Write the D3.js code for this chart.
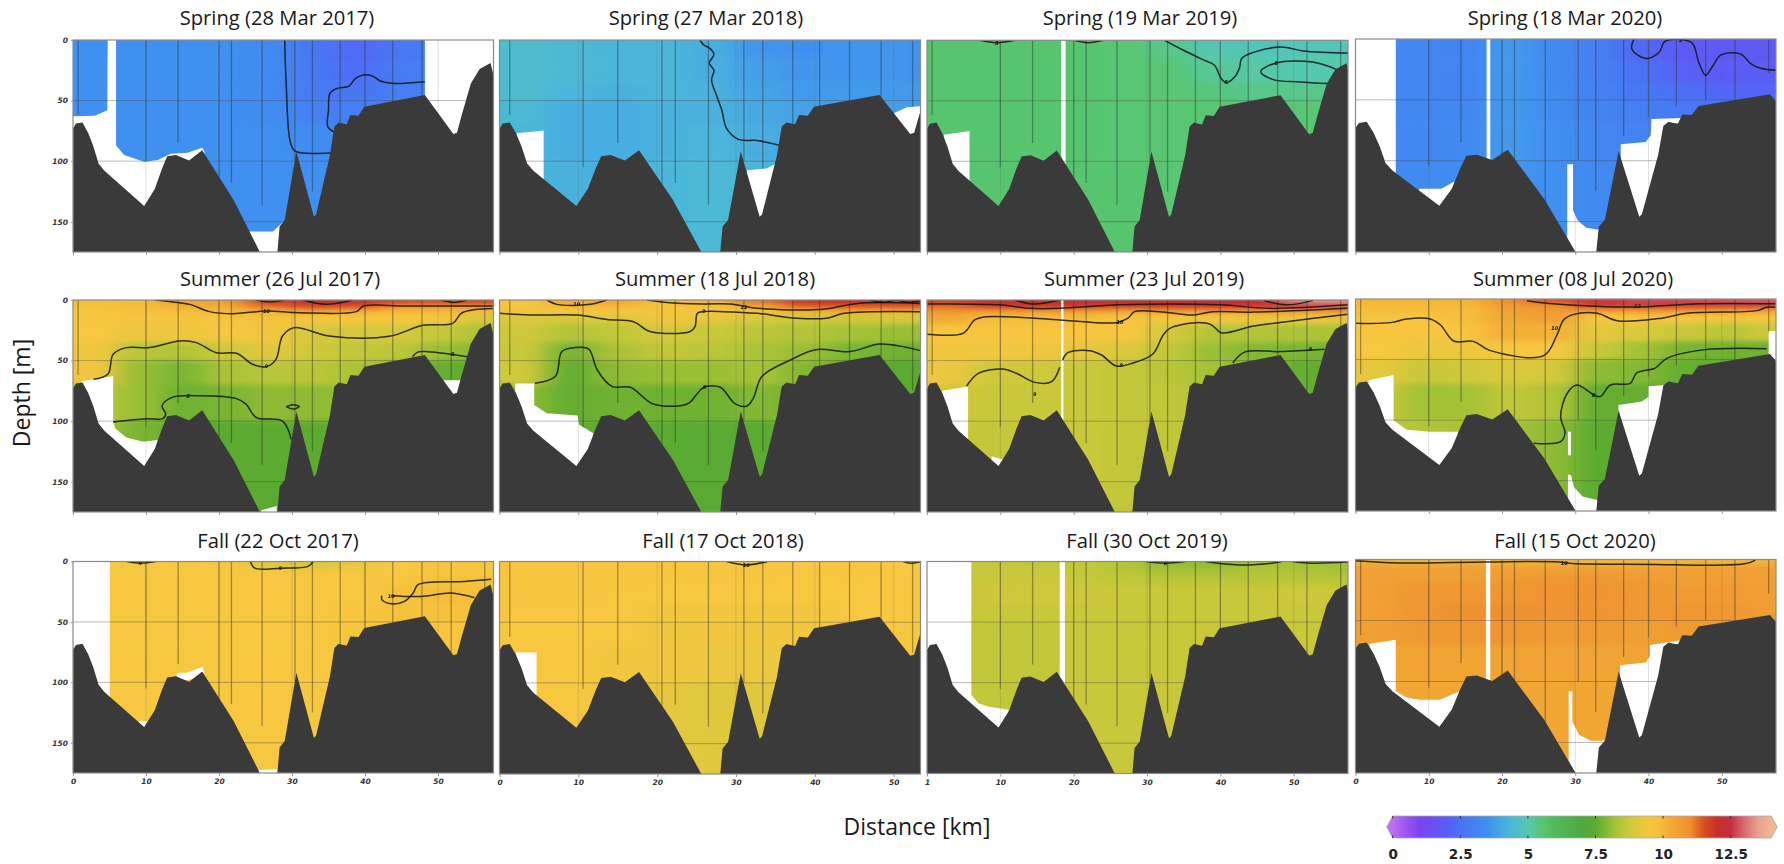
<!DOCTYPE html>
<html>
<head>
<meta charset="utf-8">
<script src="https://cdn.jsdelivr.net/npm/d3@7"></script>
<style>
body { margin: 0; background: #fff; }
svg { display: block; }
.title { font-family: "Open Sans"; font-size: 20.2px; fill: #1a1a1a; text-anchor: middle; }
.axis-title { font-family: "Open Sans"; font-size: 23px; fill: #1a1a1a; text-anchor: middle; }
.ticks text { font-family: "DejaVu Sans"; font-size: 7.5px; font-weight: bold; font-style: italic; fill: #333; }
.ticks line, .ticks path { stroke: #999; }
.cbar text { font-family: "DejaVu Sans"; font-size: 13.5px; font-weight: bold; fill: #222; }
.clabel { font-family: "DejaVu Sans"; font-size: 5px; font-weight: bold; font-style: italic; fill: #111; text-anchor: middle; }
</style>
</head>
<body>
<svg id="chart" width="1784" height="864"></svg>
<script>
// colour scale
const colorValues = [0, 0.5, 1, 2, 2.5, 3.5, 4.3, 5, 5.5, 6, 7, 7.5, 8.2, 8.7, 9.5, 9.7, 10.3, 11, 11.5, 12, 12.5, 13, 13.5, 14];
const colorHex = ["#bd6ff2", "#9a55ee", "#7a45ef", "#5a5cf5", "#4a72f5", "#3f90f0", "#4bb6da", "#55c8b0", "#58c672", "#52ba5c", "#50a83e", "#5aab30", "#a4c236", "#c9c83a", "#f7c740", "#f6c23c", "#f2aa35", "#ee9030", "#d8501f", "#c83028", "#c23040", "#d86a70", "#e8a090", "#f0b890"];
const colorTicks = [0, 2.5, 5, 7.5, 10, 12.5];

// bottom profile (km, m), in the distance units of the first column
const bottomKm = [0, 0.4, 1.3, 2.1, 2.8, 3.5, 4.3, 9.75, 11.2, 12.2, 12.9, 14.1, 15.9, 17.7, 22, 25.6, 28, 28.3, 29, 30.6, 33, 33.3, 35.2, 35.8, 36.4, 37, 37.5, 38, 39.1, 39.9, 48.2, 52.1, 52.6, 53.2, 54.5, 55.7, 57.2, 57.6];
const bottomDepth = [73, 69, 68, 77, 88, 102, 108, 137, 123, 106, 96, 95, 99.5, 91, 132, 175, 175, 154, 148.5, 92, 146, 144, 95, 71.5, 68, 69, 69.5, 62, 62.5, 55, 45.4, 77.6, 76.5, 63, 36, 24, 19, 29];

// station lines
const stationKm = [0.7, 10, 14.4, 20, 21.7, 25.9, 30.4, 32.8, 36.6, 40, 43.8, 47.8, 51.8, 56.4];
const stationDepth = [62, 105, 85, 175, 118, 136, 100, 125, 80, 64, 55, 50, 75, 28];

// temperature cells: one row per depth band, one value per distance band
const fieldKmEdges = [-10, 6, 12, 18, 24, 30, 36, 42, 48, 54, 70];
const fieldDepthEdges = [-25, 3, 7, 12, 20, 35, 50, 70, 100, 195];

const spring2017 = [
  [3.5, 3.5, 3.5, 3.5, 3.3, 2.7, 2.3, 2.7, 3.0, 3.1],
  [3.5, 3.5, 3.5, 3.5, 3.3, 2.7, 2.3, 2.7, 3.0, 3.1],
  [3.5, 3.5, 3.5, 3.5, 3.3, 2.7, 2.3, 2.7, 3.0, 3.1],
  [3.5, 3.5, 3.5, 3.5, 3.3, 2.7, 2.3, 2.7, 3.0, 3.1],
  [3.5, 3.5, 3.5, 3.5, 3.3, 2.7, 2.4, 2.8, 3.0, 3.1],
  [3.5, 3.5, 3.5, 3.5, 3.3, 2.8, 2.6, 2.9, 3.1, 3.1],
  [3.5, 3.5, 3.5, 3.5, 3.4, 3.0, 2.9, 3.1, 3.2, 3.2],
  [3.5, 3.5, 3.5, 3.5, 3.5, 3.4, 3.2, 3.2, 3.2, 3.2],
  [3.5, 3.5, 3.5, 3.5, 3.5, 3.5, 3.4, 3.4, 3.4, 3.4]
];
const spring2018 = [
  [4.5, 4.4, 4.3, 4.3, 4.1, 3.6, 3.5, 3.6, 3.6, 3.5],
  [4.5, 4.4, 4.3, 4.3, 4.1, 3.6, 3.5, 3.6, 3.6, 3.5],
  [4.5, 4.4, 4.3, 4.3, 4.1, 3.6, 3.5, 3.6, 3.6, 3.5],
  [4.5, 4.4, 4.3, 4.3, 4.1, 3.7, 3.6, 3.6, 3.6, 3.5],
  [4.5, 4.4, 4.3, 4.3, 4.1, 3.8, 3.6, 3.6, 3.6, 3.5],
  [4.5, 4.3, 4.2, 4.3, 4.2, 3.9, 3.7, 3.7, 3.7, 3.6],
  [4.4, 4.1, 4.1, 4.2, 4.2, 4.0, 3.9, 3.8, 3.8, 3.7],
  [4.3, 4.1, 4.1, 4.2, 4.3, 4.1, 4.0, 4.0, 4.0, 4.0],
  [4.3, 4.2, 4.2, 4.3, 4.4, 4.3, 4.2, 4.2, 4.2, 4.2]
];
const spring2019 = [
  [5.6, 5.6, 5.6, 5.6, 5.5, 5.3, 4.9, 4.8, 4.9, 4.9],
  [5.6, 5.6, 5.6, 5.6, 5.5, 5.3, 4.9, 4.8, 4.9, 4.9],
  [5.6, 5.6, 5.6, 5.6, 5.5, 5.3, 5.0, 4.9, 4.9, 4.9],
  [5.6, 5.6, 5.6, 5.6, 5.5, 5.4, 5.1, 5.0, 5.0, 5.0],
  [5.6, 5.6, 5.6, 5.6, 5.5, 5.5, 5.2, 5.1, 5.0, 5.0],
  [5.6, 5.6, 5.6, 5.6, 5.5, 5.5, 5.4, 5.3, 5.3, 5.3],
  [5.6, 5.6, 5.6, 5.6, 5.5, 5.5, 5.5, 5.5, 5.5, 5.5],
  [5.6, 5.6, 5.6, 5.6, 5.5, 5.5, 5.5, 5.5, 5.5, 5.5],
  [5.6, 5.6, 5.6, 5.6, 5.6, 5.5, 5.5, 5.5, 5.5, 5.5]
];
const spring2020 = [
  [3.2, 3.2, 3.1, 3.7, 3.3, 2.9, 2.3, 1.9, 1.9, 1.9],
  [3.2, 3.2, 3.1, 3.7, 3.3, 2.9, 2.3, 1.9, 1.9, 1.9],
  [3.2, 3.2, 3.1, 3.7, 3.3, 2.9, 2.3, 1.9, 1.9, 1.9],
  [3.2, 3.2, 3.1, 3.7, 3.3, 2.9, 2.3, 1.9, 1.9, 1.9],
  [3.2, 3.2, 3.1, 3.7, 3.3, 2.9, 2.5, 2.1, 2.0, 2.0],
  [3.2, 3.2, 3.1, 3.7, 3.4, 3.0, 2.7, 2.4, 2.2, 2.2],
  [3.3, 3.2, 3.2, 3.7, 3.4, 3.1, 2.9, 2.7, 2.6, 2.6],
  [3.3, 3.2, 3.3, 3.7, 3.5, 3.2, 3.1, 3.0, 3.0, 3.0],
  [3.3, 3.3, 3.4, 3.6, 3.5, 3.3, 3.2, 3.2, 3.2, 3.2]
];
const summer2017 = [
  [9.8, 9.9, 10.5, 10.6, 11.8, 12.4, 12.3, 11.7, 11.7, 11.8],
  [9.7, 9.8, 10.2, 10.3, 11.3, 11.8, 11.6, 11.0, 11.0, 11.0],
  [9.6, 9.7, 9.8, 9.9, 10.1, 10.3, 10.1, 9.9, 9.9, 9.9],
  [9.6, 9.6, 9.6, 9.6, 9.7, 9.5, 9.5, 9.5, 9.4, 8.9],
  [9.5, 9.3, 9.3, 9.5, 9.4, 8.9, 8.9, 8.9, 8.6, 8.3],
  [9.4, 8.5, 8.4, 8.8, 9.1, 8.8, 8.6, 8.5, 8.1, 7.9],
  [9.4, 8.1, 7.8, 8.3, 8.5, 8.5, 8.3, 8.0, 7.6, 7.5],
  [8.6, 8.1, 7.7, 7.8, 8.0, 8.0, 8.1, 7.9, 7.6, 7.5],
  [8.2, 7.8, 7.6, 7.5, 7.5, 7.5, 7.6, 7.6, 7.5, 7.5]
];
const summer2018 = [
  [9.6, 10.4, 10.4, 9.7, 10.0, 11.2, 12.0, 12.1, 12.1, 12.3],
  [9.5, 10.0, 10.0, 9.6, 9.8, 10.5, 11.4, 11.5, 11.5, 11.6],
  [9.3, 9.5, 9.5, 9.4, 9.4, 9.6, 10.1, 10.1, 10.0, 10.1],
  [9.0, 8.9, 9.0, 9.4, 9.2, 8.9, 8.8, 8.8, 8.9, 8.9],
  [8.8, 8.4, 8.6, 8.9, 8.7, 8.5, 8.4, 8.2, 8.1, 8.1],
  [8.7, 7.8, 8.3, 8.6, 8.5, 8.3, 8.1, 7.8, 7.7, 7.7],
  [8.8, 7.6, 8.0, 8.1, 8.1, 8.2, 7.9, 7.6, 7.5, 7.5],
  [8.0, 7.6, 7.7, 7.7, 7.7, 7.9, 7.7, 7.5, 7.5, 7.5],
  [7.7, 7.6, 7.5, 7.5, 7.4, 7.5, 7.6, 7.5, 7.5, 7.5]
];
const summer2019 = [
  [11.8, 12.2, 12.3, 12.4, 12.3, 12.2, 12.3, 12.4, 13.4, 13.5],
  [11.3, 11.9, 12.0, 11.9, 11.8, 12.0, 12.1, 12.2, 12.5, 12.6],
  [10.8, 10.6, 10.6, 10.5, 10.3, 10.4, 10.5, 10.6, 10.6, 10.6],
  [10.3, 9.8, 9.8, 9.8, 9.6, 9.4, 9.4, 9.3, 9.3, 9.2],
  [9.6, 9.6, 9.6, 9.6, 9.5, 8.9, 8.4, 8.4, 8.3, 8.3],
  [9.4, 9.4, 9.4, 9.2, 9.0, 8.6, 8.1, 7.9, 7.8, 7.7],
  [9.3, 8.8, 8.8, 8.7, 8.6, 8.5, 8.2, 7.9, 7.6, 7.5],
  [8.8, 8.7, 8.7, 8.7, 8.6, 8.6, 8.3, 8.0, 7.6, 7.5],
  [8.7, 8.6, 8.7, 8.7, 8.6, 8.6, 8.5, 8.0, 7.6, 7.5]
];
const summer2020 = [
  [10.0, 10.0, 10.0, 11.0, 11.5, 12.6, 12.8, 12.8, 12.9, 13.0],
  [9.9, 9.9, 9.9, 10.8, 11.0, 12.0, 12.3, 12.3, 12.3, 12.4],
  [9.8, 9.8, 9.8, 10.5, 10.7, 10.7, 10.8, 10.8, 10.6, 10.6],
  [9.6, 9.6, 9.8, 10.4, 10.6, 9.6, 9.6, 9.6, 9.6, 9.6],
  [9.6, 9.6, 9.6, 10.2, 10.1, 9.2, 9.0, 8.7, 8.5, 8.8],
  [9.5, 9.3, 9.3, 9.5, 9.5, 8.7, 8.2, 7.8, 7.7, 7.7],
  [9.2, 8.7, 8.8, 9.0, 8.9, 8.0, 7.9, 7.6, 7.5, 7.5],
  [8.8, 8.2, 8.2, 8.6, 8.4, 7.6, 7.6, 7.6, 7.6, 7.6],
  [8.6, 8.4, 8.3, 8.2, 8.0, 7.5, 7.6, 7.6, 7.6, 7.6]
];
const fall2017 = [
  [9.5, 9.5, 9.4, 9.5, 8.9, 8.8, 9.3, 9.5, 9.6, 9.6],
  [9.5, 9.5, 9.5, 9.5, 9.2, 9.1, 9.4, 9.5, 9.6, 9.6],
  [9.5, 9.5, 9.5, 9.5, 9.5, 9.5, 9.5, 9.5, 9.6, 9.6],
  [9.5, 9.5, 9.5, 9.5, 9.5, 9.5, 9.5, 9.6, 9.7, 9.7],
  [9.5, 9.5, 9.5, 9.5, 9.5, 9.5, 9.5, 9.7, 9.8, 9.7],
  [9.5, 9.5, 9.5, 9.5, 9.5, 9.5, 9.6, 9.7, 9.7, 9.7],
  [9.5, 9.5, 9.5, 9.5, 9.5, 9.5, 9.6, 9.6, 9.6, 9.6],
  [9.5, 9.5, 9.5, 9.5, 9.5, 9.5, 9.5, 9.5, 9.5, 9.5],
  [9.5, 9.5, 9.5, 9.5, 9.5, 9.5, 9.5, 9.5, 9.5, 9.5]
];
const fall2018 = [
  [9.6, 9.6, 9.6, 9.6, 9.6, 9.5, 9.5, 9.6, 9.5, 9.5],
  [9.6, 9.6, 9.6, 9.6, 9.6, 9.6, 9.5, 9.6, 9.5, 9.5],
  [9.6, 9.6, 9.6, 9.6, 9.6, 9.6, 9.5, 9.6, 9.5, 9.5],
  [9.6, 9.6, 9.6, 9.5, 9.5, 9.5, 9.5, 9.5, 9.5, 9.5],
  [9.6, 9.6, 9.5, 9.5, 9.5, 9.5, 9.5, 9.5, 9.5, 9.5],
  [9.5, 9.5, 9.5, 9.4, 9.4, 9.4, 9.4, 9.5, 9.5, 9.5],
  [9.5, 9.5, 9.5, 9.4, 9.4, 9.4, 9.4, 9.5, 9.5, 9.5],
  [9.5, 9.5, 9.4, 9.4, 9.3, 9.3, 9.3, 9.3, 9.5, 9.5],
  [9.5, 9.5, 9.3, 9.2, 9.1, 9.1, 9.2, 9.3, 9.5, 9.5]
];
const fall2019 = [
  [8.6, 8.6, 8.5, 8.6, 8.5, 8.0, 8.0, 8.2, 8.2, 8.2],
  [8.6, 8.7, 8.7, 8.6, 8.4, 8.1, 8.1, 8.3, 8.2, 8.2],
  [8.6, 8.7, 8.7, 8.6, 8.5, 8.3, 8.3, 8.4, 8.4, 8.3],
  [8.6, 8.7, 8.8, 8.7, 8.6, 8.5, 8.5, 8.5, 8.5, 8.5],
  [8.6, 8.8, 8.8, 8.8, 8.7, 8.7, 8.7, 8.7, 8.8, 8.7],
  [8.6, 8.7, 8.7, 8.7, 8.7, 8.7, 8.7, 8.7, 8.7, 8.7],
  [8.6, 8.6, 8.6, 8.7, 8.7, 8.7, 8.7, 8.7, 8.7, 8.7],
  [8.6, 8.6, 8.6, 8.7, 8.7, 8.7, 8.7, 8.7, 8.7, 8.7],
  [8.6, 8.6, 8.6, 8.7, 8.7, 8.7, 8.7, 8.7, 8.7, 8.7]
];
const fall2020 = [
  [10.0, 10.0, 10.0, 10.0, 10.0, 10.0, 10.0, 10.0, 10.0, 10.0],
  [10.4, 10.4, 10.4, 10.4, 10.4, 10.4, 10.4, 10.4, 10.4, 10.4],
  [10.6, 10.6, 10.6, 10.6, 10.6, 10.6, 10.6, 10.6, 10.6, 10.6],
  [10.6, 10.6, 10.6, 10.7, 10.8, 10.8, 10.7, 10.6, 10.6, 10.6],
  [10.6, 10.8, 10.8, 10.85, 10.9, 10.9, 10.8, 10.7, 10.7, 10.6],
  [10.6, 10.85, 10.95, 10.95, 10.9, 10.9, 10.75, 10.85, 10.8, 10.6],
  [10.6, 10.75, 10.8, 10.85, 10.7, 10.7, 10.6, 10.7, 10.7, 10.6],
  [10.5, 10.5, 10.5, 10.5, 10.5, 10.5, 10.5, 10.5, 10.5, 10.5],
  [10.4, 10.4, 10.4, 10.4, 10.4, 10.4, 10.4, 10.4, 10.4, 10.4]
];

// contour lines, [km, m]
const spring2017Lines = [
  [[29, 0], [29.2, 35.8], [29.8, 85], [30.5, 92], [35.8, 93]],
  [[48.2, 34.4], [43.7, 35.8], [42.1, 33.8], [41, 29.7], [39.8, 28.9], [38.7, 31.6], [37.8, 38], [36.2, 39.9], [35.2, 44], [35, 57.8], [34.9, 71.5], [35.8, 76]]
];
const spring2018Lines = [
  [[25.4, 0], [25.9, 4], [26.7, 7], [27.2, 12], [26.6, 19], [27.2, 25], [26.9, 33], [27.6, 47], [28.2, 58], [28.8, 73], [30.3, 82], [32.7, 83], [35.6, 87]]
];
const spring2019Lines = [
  [[7.2, 0], [9.5, 2], [12, 0]],
  [[20.1, 0], [22, 2], [24, 0]],
  [[32.4, 0], [34.9, 8], [37.6, 16], [39.2, 20.6], [40.1, 31.6], [40.8, 35], [42, 30], [42.6, 23], [42.9, 15], [44.5, 10], [48.3, 5.5], [51.3, 8.8], [57.5, 10.5]],
  [[55.8, 24], [52.6, 18], [47.6, 18.7], [45.5, 26], [47.2, 32.5], [50.8, 34.4], [54.7, 35.8]]
];
const spring2020Lines = [
  [[38, 0], [37.7, 7.7], [38.5, 13], [39.9, 16], [41.5, 10.5], [42.2, 2.2], [44.4, 0.5], [46, 3.6], [46.9, 20], [47.8, 29.7], [48.7, 22.8], [49.9, 13], [52.6, 12.4], [53.9, 20], [55.3, 24], [57.5, 25.6]]
];
const summer2017Lines = [
  [[11.2, 0], [13.7, 1.6], [16, 3.6], [18.7, 9.6], [21.9, 11.3], [26.5, 9], [31, 10.5], [38.8, 9.6], [39.8, 5], [45.6, 5], [57.5, 5]],
  [[25, 0], [27, 1.6], [29, 0]],
  [[31.5, 0], [34.7, 3.6], [38.3, 0]],
  [[50.4, 0], [52.2, 2], [54, 0]],
  [[2.8, 65.5], [4.8, 61], [5.5, 44.8], [7.3, 39.3], [10.5, 39.3], [14.6, 33.8], [16.9, 35.2], [19.6, 43.5], [22.4, 44], [24.6, 53], [26.5, 55], [27.8, 49], [28.7, 29.7], [30.3, 22.8], [35.1, 29.7], [43.3, 30], [47.9, 20.9], [52, 19.3], [53.3, 10.5], [57.5, 7]],
  [[5.5, 100.7], [10.1, 98], [12.3, 98], [12.7, 94], [12.2, 87.5], [13.5, 80.6], [17.3, 79], [22.4, 81.4], [23.7, 86], [25.1, 97], [28.7, 100], [29.9, 115]],
  [[29.2, 88], [30.2, 86.5], [31, 88], [30.2, 90], [29.2, 88]],
  [[46.5, 46.8], [47.2, 43], [48.3, 42.6], [54, 46.8]]
];
const summer2018Lines = [
  [[6, 0], [7.3, 3.6], [11.5, 3.6], [13.6, 0]],
  [[18.7, 0], [21.2, 2], [25.9, 3.3], [29.3, 3.3], [32.7, 6.9], [41.1, 7.7], [45.4, 2.8], [53.4, 2.8]],
  [[47, 0], [48.7, 2], [50.4, 0], [51.7, 1.9], [53.4, 0.6]],
  [[0, 11], [3.9, 12.4], [9.8, 12.4], [13.6, 16], [17, 17.9], [19.1, 26], [24.2, 26], [24.8, 22], [25.1, 11], [25.9, 9.6], [28.4, 9.6], [32.7, 11], [37.7, 15], [41.5, 15], [43.7, 11], [53.4, 9.6]],
  [[4.5, 68.8], [7.1, 63], [7.9, 42.6], [9.6, 39.3], [11.3, 40.4], [12.4, 57.8], [14.3, 71.5], [16.6, 72], [19.5, 85.8], [23.8, 85.8], [25, 78], [25.9, 72], [28, 72], [29.9, 85.8], [31.4, 87.5], [32.2, 81], [33.3, 63], [36.9, 49.5], [40.1, 41], [44.5, 42.6], [48.3, 36.3], [53.4, 41.8]]
];
const summer2019Lines = [
  [[0, 3.3], [9.9, 4], [14, 6.9], [18.1, 6.9], [26.3, 4], [39.9, 4], [46.7, 6.9], [57.4, 4]],
  [[12, 0], [14.5, 3.3], [18.1, 0]],
  [[46, 0.5], [49, 4], [52.6, 0.5]],
  [[0, 28.3], [4.9, 27.5], [6.5, 16.5], [8.1, 13.8], [17.2, 16], [25.8, 18.7], [27.4, 15], [28.3, 9.6], [31.7, 9.6], [36.3, 12.4], [39, 9.6], [44.5, 10], [57.4, 6.9]],
  [[18.5, 49.5], [19.2, 43.5], [22.2, 41.8], [23.8, 45.4], [25.8, 54.5], [28.1, 52], [30.8, 44.6], [32.2, 28.9], [33.1, 23.4], [36.7, 18.7], [38.8, 20.6], [40.1, 27], [44.5, 21.5], [49, 17.9], [57.4, 11.8]],
  [[5.4, 71], [7, 60.5], [10.4, 57], [12.2, 60.5], [14.7, 68], [17, 67.4], [18.1, 55.5]],
  [[41.7, 52], [43.3, 43], [48.1, 42.6], [54.2, 40.7]]
];
const summer2020Lines = [
  [[23.4, 1.4], [26.1, 3.6], [34.3, 6.3], [39.8, 6.3], [46.9, 4], [57.3, 4]],
  [[0, 20], [4.8, 19.5], [7, 16.5], [10.2, 16.5], [11.6, 21.5], [13.4, 34.7], [16.1, 35], [18.4, 42.6], [25.7, 46.8], [27.5, 29.7], [28.4, 17.3], [29.8, 12.7], [33, 11.8], [35.7, 17.9], [41.6, 16], [45.2, 11.8], [54.8, 9.6], [56.1, 6.9], [57.3, 6.9]],
  [[24.3, 119], [28, 117.7], [28.6, 110.8], [28, 97], [28.9, 77.8], [30.2, 71], [32.5, 79], [33.4, 80.6], [34.8, 71], [37.5, 69.6], [38.4, 61], [40.9, 57], [42.5, 49], [47.5, 42], [56.1, 41]]
];
const fall2017Lines = [
  [[7.4, 0], [9.2, 1.4], [11.3, 0]],
  [[24.3, 0], [24.9, 5.5], [28.4, 5.5], [32.2, 4], [32.9, 0]],
  [[57.3, 14.6], [53.6, 16.5], [47.3, 19], [46.6, 26], [45.4, 33], [43.6, 35], [42.3, 31.6], [42.3, 28.3]],
  [[43.6, 28.3], [47.7, 28.9], [51.8, 26], [55, 30]]
];
const fall2018Lines = [
  [[28.8, 0], [31.3, 2.8], [34, 0]],
  [[51.2, 0], [52.2, 1.4], [53.5, 0]]
];
const fall2019Lines = [
  [[29.8, 0], [32.5, 1.4], [35.2, 0]],
  [[38, 0], [42.5, 2.8], [47, 1.4], [48.4, 0]],
  [[49.8, 0], [52.5, 1.4], [57.3, 0.5]]
];
const fall2020Lines = [
  [[0, 1], [6, 2.8], [17.8, 2], [27.8, 2], [29.6, 3.3], [41, 4], [47.8, 4.7], [53.3, 3.3], [54.6, 0.5]]
];

// no-data areas, [km, m]
const spring2017Gaps = [
  [[0, 63], [3, 62.5], [4.7, 58], [4.75, 0], [5.9, 0], [5.9, 87], [7, 95], [9.75, 100.5], [11.6, 99], [13.4, 94], [15.7, 93], [17.7, 89], [18, 92], [18, 180], [0, 180]],
  [[24, 158], [27.4, 158], [28.8, 150], [29, 180], [24, 180]],
  [[48.2, 0], [57.6, 0], [57.6, 180], [48.2, 180]]
];
const spring2018Gaps = [
  [[2.2, 77], [5.6, 74.8], [5.6, 180], [2.2, 180]],
  [[31.4, 107.5], [33.9, 106], [35.4, 101], [36, 180], [31, 180]],
  [[50, 60.5], [51.7, 55.5], [53.6, 54.5], [53.6, 180], [50, 180]]
];
const spring2019Gaps = [
  [[2.3, 78], [5.8, 75], [5.8, 180], [2.3, 180]],
  [[18.3, 0], [18.9, 0], [18.9, 180], [18.3, 180]]
];
const spring2020Gaps = [
  [[0, 0], [5.5, 0], [5.5, 180], [0, 180]],
  [[17.9, 0], [18.4, 0], [18.4, 180], [17.9, 180]],
  [[8.7, 123], [11.7, 123], [13.5, 117], [13.5, 180], [8.7, 180]],
  [[28.9, 103], [29.7, 103], [29.7, 141], [30.3, 149], [31.5, 155], [33.4, 157], [34.6, 148], [34.6, 180], [28.9, 180]],
  [[36.2, 86.5], [39.6, 84.6], [40.3, 79], [40.4, 65.7], [44.6, 65], [44.6, 180], [36.2, 180]]
];
const summer2017Gaps = [
  [[1.2, 67], [5.5, 62.7], [5.5, 100], [5.8, 106], [7.3, 113.6], [9.6, 117], [11.6, 115.5], [11.6, 180], [1.2, 180]],
  [[25.8, 173.5], [27.9, 170], [27.9, 180], [25.8, 180]],
  [[50.8, 66.3], [53.2, 66.3], [53.2, 180], [50.8, 180]]
];
const summer2018Gaps = [
  [[2, 69], [4.4, 69], [4.4, 86.6], [6, 93.5], [9.9, 95.4], [10.1, 103], [11.9, 110], [11.9, 180], [2, 180]]
];
const summer2019Gaps = [
  [[2.1, 75], [5.6, 71.5], [5.6, 180], [2.1, 180]],
  [[18.3, 0], [18.6, 0], [18.6, 180], [18.3, 180]],
  [[8.8, 129], [10.6, 132], [10.6, 180], [8.8, 180]]
];
const summer2020Gaps = [
  [[1.8, 67], [5.2, 62.7], [5.2, 100], [7, 108], [10.2, 109.5], [14, 109.5], [14, 180], [1.8, 180]],
  [[29, 109.5], [29.4, 109.5], [29.4, 129], [29, 129]],
  [[29, 145], [29.4, 145], [29.8, 155], [31, 163], [33, 166], [33.4, 180], [29, 180]],
  [[35.9, 87.5], [39.1, 84.7], [40, 80.6], [40, 72], [42.5, 71], [42.5, 180], [35.9, 180]],
  [[56.4, 26.4], [57.5, 26.4], [57.5, 180], [56.4, 180]]
];
const fall2017Gaps = [
  [[0, 0], [5.05, 0], [5.05, 180], [0, 180]],
  [[9, 132], [10.2, 132], [10.2, 140], [9, 140]],
  [[14.25, 92], [15.5, 92], [17.8, 87], [18, 95], [14.25, 100]],
  [[25.4, 172.5], [28, 172], [28, 180], [25.4, 180]]
];
const fall2018Gaps = [
  [[2.1, 75], [4.7, 75], [4.7, 180], [2.1, 180]]
];
const fall2019Gaps = [
  [[0, 0], [6.05, 0], [6.05, 110], [7, 117], [8.4, 120], [11.1, 122.4], [11.1, 180], [0, 180]],
  [[18.1, 0], [18.8, 0], [18.8, 180], [18.1, 180]]
];
const fall2020Gaps = [
  [[1.9, 69], [5.5, 65.7], [5.5, 108], [6.9, 113], [8.7, 115], [11.5, 115], [14.1, 108.4], [14.1, 180], [1.9, 180]],
  [[17.8, 0], [18.4, 0], [18.4, 180], [17.8, 180]],
  [[29.1, 108], [29.6, 108], [29.6, 132.6], [30.5, 143.6], [32.1, 148.5], [34.4, 148.5], [34.4, 180], [29.1, 180]],
  [[36.1, 86.6], [39.6, 84.4], [40.2, 79], [40.2, 70], [44.7, 66], [44.7, 180], [36.1, 180]]
];

// small isotherm labels, [km, m, text]
const lineLabels = [
  [], [], [[9.5, 2, "5"], [40.8, 35, "5"], [47.6, 18.7, "5"]], [[44.4, 1, "2"]],
  [[26.5, 9, "10"], [26.5, 55, "9"], [15.8, 79.5, "8"], [52, 45, "8"]],
  [[9.8, 3.6, "10"], [25.9, 9.6, "9"], [26, 72, "8"], [31, 6, "11"]],
  [[26.3, 18.5, "10"], [26.5, 54, "9"], [14.7, 78, "9"], [52.3, 41, "8"]],
  [[27.2, 24, "10"], [38.5, 6.3, "12"], [32.5, 79, "8"]],
  [[9.2, 1.4, "9"], [28.4, 5.5, "9"], [43.6, 28.3, "10"]], [[31.3, 2.8, "10"]],
  [[32.5, 1.4, "8"]], [[28.5, 3, "10"]]
];

const titles = [
  "Spring (28 Mar 2017)", "Spring (27 Mar 2018)", "Spring (19 Mar 2019)", "Spring (18 Mar 2020)",
  "Summer (26 Jul 2017)", "Summer (18 Jul 2018)", "Summer (23 Jul 2019)", "Summer (08 Jul 2020)",
  "Fall (22 Oct 2017)", "Fall (17 Oct 2018)", "Fall (30 Oct 2019)", "Fall (15 Oct 2020)"
];
const fields = [spring2017, spring2018, spring2019, spring2020, summer2017, summer2018, summer2019, summer2020, fall2017, fall2018, fall2019, fall2020];
const lines = [spring2017Lines, spring2018Lines, spring2019Lines, spring2020Lines, summer2017Lines, summer2018Lines, summer2019Lines, summer2020Lines, fall2017Lines, fall2018Lines, fall2019Lines, fall2020Lines];
const gaps = [spring2017Gaps, spring2018Gaps, spring2019Gaps, spring2020Gaps, summer2017Gaps, summer2018Gaps, summer2019Gaps, summer2020Gaps, fall2017Gaps, fall2018Gaps, fall2019Gaps, fall2020Gaps];

const depthTicks = [0, 50, 100, 150];
const distanceTicks = [0, 10, 20, 30, 40, 50];

// panel frames
const colLeft = [73, 499.5, 927, 1355.5];
const colRight = [493.5, 920.5, 1348, 1776];
const colKmMax = [57.6, 53.4, 57.4, 57.4];
const colBottomKmMax = [57.6, 53.4, 57.4, 48.9]; // last column is drawn on a stretched bottom profile
const colStationShift = [0, 0.6, 0, 0];
const rowTop = [[40, 40, 40.3, 39], [300, 300, 300, 299], [561.5, 561.5, 561.5, 559.5]];
const rowBottom = [[252, 252, 252, 252], [512, 512, 512, 511], [773, 774, 773.5, 773]];
const titleX = [[277, 706, 1140, 1565], [280, 715, 1144, 1573], [278, 723, 1147, 1575]];
const titleY = [25, 286, 548];

const svg = d3.select("#chart");
const defs = svg.append("defs");

const field = defs.append("filter").attr("id", "field")
  .attr("x", "-20%").attr("y", "-20%").attr("width", "140%").attr("height", "140%")
  .attr("color-interpolation-filters", "sRGB");
field.append("feGaussianBlur").attr("stdDeviation", "13 2.6");

const soft = defs.append("filter").attr("id", "soft")
  .attr("x", "-2%").attr("y", "-2%").attr("width", "104%").attr("height", "104%")
  .attr("color-interpolation-filters", "sRGB");
soft.append("feGaussianBlur").attr("stdDeviation", 0.5);

const color = d3.scaleLinear().domain(colorValues).range(colorHex);

const line = d3.line().curve(d3.curveCatmullRom.alpha(0.5));

d3.range(3).forEach(r => {
  d3.range(4).forEach(c => {
    const idx = r * 4 + c;
    const top = rowTop[r][c], bottom = rowBottom[r][c];
    const x = d3.scaleLinear().domain([0, colKmMax[c]]).range([colLeft[c], colRight[c]]);
    const y = d3.scaleLinear().domain([0, 175]).range([top, bottom]);
    const xBottom = d3.scaleLinear().domain([0, colBottomKmMax[c]]).range([colLeft[c], colRight[c]]);

    svg.append("text").attr("class", "title")
      .attr("x", titleX[r][c]).attr("y", titleY[r])
      .text(titles[idx]);

    defs.append("clipPath").attr("id", "clip" + idx).append("rect")
      .attr("x", colLeft[c]).attr("y", top)
      .attr("width", colRight[c] - colLeft[c]).attr("height", bottom - top);

    const panel = svg.append("g").attr("clip-path", "url(#clip" + idx + ")")
      .append("g").attr("filter", "url(#soft)");

    // temperature cells
    const cells = panel.append("g").attr("filter", "url(#field)");
    fields[idx].forEach((row, j) => {
      cells.selectAll(null).data(row).enter().append("rect")
        .attr("x", (d, i) => x(fieldKmEdges[i]))
        .attr("y", y(fieldDepthEdges[j]))
        .attr("width", (d, i) => x(fieldKmEdges[i + 1]) - x(fieldKmEdges[i]) + 0.5)
        .attr("height", y(fieldDepthEdges[j + 1]) - y(fieldDepthEdges[j]) + 0.5)
        .attr("fill", d => color(d));
    });

    // station lines
    panel.selectAll(".station").data(stationKm).enter().append("line")
      .attr("x1", d => x(d + colStationShift[c])).attr("x2", d => x(d + colStationShift[c]))
      .attr("y1", y(0)).attr("y2", (d, i) => y(stationDepth[i]))
      .attr("stroke", "#2a2a2a").attr("stroke-opacity", 0.42).attr("stroke-width", 1.3);

    // no-data areas
    panel.selectAll(".gap").data(gaps[idx]).enter().append("path")
      .attr("d", d => "M" + d.map(p => x(p[0]) + "," + y(p[1])).join("L") + "Z")
      .attr("fill", "#fff");

    // grid
    panel.selectAll(".gridx").data(distanceTicks.slice(1)).enter().append("line")
      .attr("x1", d => x(d)).attr("x2", d => x(d)).attr("y1", top).attr("y2", bottom)
      .attr("stroke", "#666").attr("stroke-opacity", 0.2);
    panel.selectAll(".gridy").data(depthTicks.slice(1)).enter().append("line")
      .attr("x1", colLeft[c]).attr("x2", colRight[c]).attr("y1", d => y(d)).attr("y2", d => y(d))
      .attr("stroke", "#444").attr("stroke-opacity", 0.38);

    // contours
    line.x(d => x(d[0])).y(d => y(d[1]));
    panel.selectAll(".contour").data(lines[idx]).enter().append("path")
      .attr("d", d => line(d))
      .attr("fill", "none").attr("stroke", "#10140f").attr("stroke-opacity", 0.85).attr("stroke-width", 1.5);
    panel.selectAll(".clabel").data(lineLabels[idx]).enter().append("text")
      .attr("class", "clabel")
      .attr("x", d => x(d[0])).attr("y", d => y(d[1]) + 1.8)
      .text(d => d[2]);

    // bottom
    const bottomArea = d3.area()
      .x((d, i) => xBottom(bottomKm[i]))
      .y0(bottom + 2)
      .y1(d => y(d));
    panel.append("path").datum(bottomDepth)
      .attr("d", bottomArea).attr("fill", "#3a3a3a");

    // frame and axes
    svg.append("rect")
      .attr("x", colLeft[c]).attr("y", top)
      .attr("width", colRight[c] - colLeft[c]).attr("height", bottom - top)
      .attr("fill", "none").attr("stroke", "#8a8a8a").attr("stroke-width", 1.2);

    const xAxis = d3.axisBottom(x).tickValues(distanceTicks).tickSize(3).tickPadding(3)
      .tickFormat((d, i) => r < 2 ? "" : (c === 2 && i === 0 ? "1" : d));
    svg.append("g").attr("class", "ticks")
      .attr("transform", "translate(0," + bottom + ")")
      .call(xAxis)
      .select(".domain").remove();

    if (c === 0) {
      const yAxis = d3.axisLeft(y).tickValues(depthTicks).tickSize(2).tickPadding(3);
      svg.append("g").attr("class", "ticks")
        .attr("transform", "translate(" + colLeft[c] + ",0)")
        .call(yAxis)
        .select(".domain").remove();
    }
  });
});

// axis titles
svg.append("text").attr("class", "axis-title")
  .attr("transform", "translate(30,393) rotate(-90)")
  .text("Depth [m]");
svg.append("text").attr("class", "axis-title")
  .attr("x", 917).attr("y", 835)
  .text("Distance [km]");

// colour bar
const cbarX = d3.scaleLinear().domain([0, 12.5]).range([1392.7, 1730.7]);
const cbarTop = 816, cbarBottom = 838;
const grad = defs.append("linearGradient").attr("id", "cbar")
  .attr("gradientUnits", "userSpaceOnUse")
  .attr("x1", cbarX(0)).attr("x2", cbarX(14)).attr("y1", 0).attr("y2", 0);
grad.selectAll("stop").data(colorValues).enter().append("stop")
  .attr("offset", d => d / 14)
  .attr("stop-color", d => color(d));

const cbarMid = (cbarTop + cbarBottom) / 2;
svg.append("path")
  .attr("d", "M" + (cbarX(0) - 6) + "," + cbarMid +
    "L" + cbarX(0) + "," + cbarTop +
    "L" + cbarX(14) + "," + cbarTop +
    "L" + (cbarX(14) + 6) + "," + cbarMid +
    "L" + cbarX(14) + "," + cbarBottom +
    "L" + cbarX(0) + "," + cbarBottom + "Z")
  .attr("fill", "url(#cbar)").attr("stroke", "#aaa").attr("stroke-width", 0.8);

const cbar = svg.append("g").attr("class", "cbar")
  .attr("transform", "translate(0," + cbarBottom + ")")
  .call(d3.axisBottom(cbarX).tickValues(colorTicks).tickSize(0).tickPadding(11).tickFormat(d => d));
cbar.select(".domain").remove();
svg.selectAll(".cbarmark").data(colorTicks).enter().append("line")
  .attr("x1", d => cbarX(d)).attr("x2", d => cbarX(d))
  .attr("y1", cbarTop).attr("y2", cbarTop + 2.5)
  .attr("stroke", "#333");
svg.selectAll(".cbarmark2").data(colorTicks).enter().append("line")
  .attr("x1", d => cbarX(d)).attr("x2", d => cbarX(d))
  .attr("y1", cbarBottom - 2.5).attr("y2", cbarBottom)
  .attr("stroke", "#333");
</script>
</body>
</html>
